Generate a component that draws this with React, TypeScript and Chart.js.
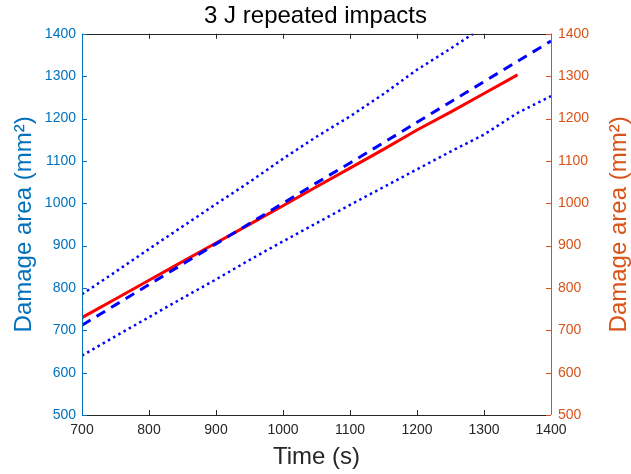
import React, { useEffect, useRef } from "react";
import { Chart, registerables } from "chart.js";

Chart.register(...registerables);

const times = [700, 750, 800, 850, 900, 950, 1000, 1050, 1100, 1150, 1200, 1250, 1300, 1350, 1400];
const upperBound = [785, 838, 892, 945, 998, 1050, 1105, 1157, 1205, 1258, 1315, 1365, 1417];
const lowerBound = [640, 686, 731, 776, 820, 866, 910, 953, 996, 1038, 1080, 1122, 1162, 1213, 1253];
const meanFit = [712, 760, 808, 856, 904, 952, 1000, 1048, 1095, 1143, 1191, 1239, 1287, 1335, 1383];
const measured = [730, 774, 818, 862, 906, 950, 994, 1039, 1083, 1127, 1173, 1215, 1259, 1303];

const xTicks = [700, 800, 900, 1000, 1100, 1200, 1300, 1400];
const yTicks = [500, 600, 700, 800, 900, 1000, 1100, 1200, 1300, 1400];

const titleText = "3 J repeated impacts";
const xTitle = "Time (s)";
const yTitle = "Damage area (mm\u00B2)";

const FONT = "'Liberation Sans', Arial, sans-serif";
const LEFT_COLOR = "#0072BD";
const RIGHT_COLOR = "#D95319";
const AXIS_COLOR = "#262626";
const TITLE_SIZE = 24;

const pts = (ys: number[]) => ys.map((y, i) => ({ x: times[i], y }));
const plain = (v: any) => String(v);

const framePlugin = {
  id: "frame",
  afterDatasetsDraw(chart: any) {
    const { ctx, chartArea: a, scales } = chart;
    const tl = 5;
    ctx.save();
    ctx.lineWidth = 1;
    ctx.strokeStyle = AXIS_COLOR;
    ctx.beginPath();
    ctx.moveTo(a.left, Math.round(a.bottom) + 0.5);
    ctx.lineTo(a.right, Math.round(a.bottom) + 0.5);
    ctx.moveTo(a.left, Math.round(a.top) + 0.5);
    ctx.lineTo(a.right, Math.round(a.top) + 0.5);
    xTicks.forEach((t) => {
      const x = Math.round(scales.x.getPixelForValue(t)) + 0.5;
      ctx.moveTo(x, a.bottom);
      ctx.lineTo(x, a.bottom - tl);
      ctx.moveTo(x, a.top);
      ctx.lineTo(x, a.top + tl);
    });
    ctx.stroke();
    ctx.strokeStyle = LEFT_COLOR;
    ctx.beginPath();
    const lx = Math.round(a.left) + 0.5;
    ctx.moveTo(lx, a.top);
    ctx.lineTo(lx, a.bottom);
    yTicks.forEach((t) => {
      const y = Math.round(scales.y.getPixelForValue(t)) + 0.5;
      ctx.moveTo(a.left, y);
      ctx.lineTo(a.left + tl, y);
    });
    ctx.stroke();
    ctx.strokeStyle = RIGHT_COLOR;
    ctx.beginPath();
    const rx = Math.round(a.right) + 0.5;
    ctx.moveTo(rx, a.top);
    ctx.lineTo(rx, a.bottom);
    yTicks.forEach((t) => {
      const y = Math.round(scales.y2.getPixelForValue(t)) + 0.5;
      ctx.moveTo(a.right, y);
      ctx.lineTo(a.right - tl, y);
    });
    ctx.stroke();
    ctx.restore();
  },
  afterDraw(chart: any) {
    const { ctx, chartArea: a } = chart;
    ctx.save();
    ctx.font = `${TITLE_SIZE}px ${FONT}`;
    ctx.fillStyle = RIGHT_COLOR;
    ctx.textAlign = "center";
    ctx.textBaseline = "middle";
    ctx.translate(619, (a.top + a.bottom) / 2);
    ctx.rotate(-Math.PI / 2);
    ctx.fillText(yTitle, 0, 0);
    ctx.restore();
  },
};

export default function App() {
  const ref = useRef<HTMLCanvasElement | null>(null);
  useEffect(() => {
    if (!ref.current) return;
    const chart = new Chart(ref.current, {
      type: "line",
      data: {
        datasets: [
          {
            label: "upper",
            data: pts(upperBound),
            borderColor: "#0000FF",
            borderWidth: 2.5,
            borderDash: [2.5, 3.5],
            pointRadius: 0,
            fill: false,
            tension: 0,
          },
          {
            label: "lower",
            data: pts(lowerBound),
            borderColor: "#0000FF",
            borderWidth: 2.5,
            borderDash: [2.5, 3.5],
            pointRadius: 0,
            fill: false,
            tension: 0,
          },
          {
            label: "mean",
            data: pts(meanFit),
            borderColor: "#0000FF",
            borderWidth: 3,
            borderDash: [10, 7],
            pointRadius: 0,
            fill: false,
            tension: 0,
          },
          {
            label: "measured",
            data: pts(measured),
            borderColor: "#FF0000",
            borderWidth: 3,
            pointRadius: 0,
            fill: false,
            tension: 0,
          },
        ],
      },
      options: {
        animation: false,
        responsive: true,
        maintainAspectRatio: false,
        layout: { padding: 0 },
        plugins: {
          legend: { display: false },
          tooltip: { enabled: false },
          title: {
            display: true,
            text: titleText,
            color: "#000000",
            font: { family: FONT, size: TITLE_SIZE, weight: "normal" },
            padding: { top: 2, bottom: 3 },
          },
        },
        scales: {
          x: {
            type: "linear",
            min: 700,
            max: 1400,
            afterFit: (s: any) => {
              s.height = 59;
            },
            afterBuildTicks: (s: any) => {
              s.ticks = xTicks.map((v) => ({ value: v }));
            },
            ticks: {
              color: AXIS_COLOR,
              font: { family: FONT, size: 14 },
              padding: 7,
              maxRotation: 0,
              autoSkip: false,
              callback: plain,
            },
            grid: { display: true, drawOnChartArea: false, drawTicks: false, color: "rgba(0,0,0,0)" },
            border: { display: false },
            title: {
              display: true,
              text: xTitle,
              color: AXIS_COLOR,
              font: { family: FONT, size: TITLE_SIZE },
              padding: { top: 0, bottom: 2 },
            },
          },
          y: {
            type: "linear",
            position: "left",
            min: 500,
            max: 1400,
            afterFit: (s: any) => {
              s.width = 82;
            },
            afterBuildTicks: (s: any) => {
              s.ticks = yTicks.map((v) => ({ value: v }));
            },
            ticks: {
              color: LEFT_COLOR,
              font: { family: FONT, size: 14 },
              padding: 6,
              autoSkip: false,
              callback: plain,
            },
            grid: { display: true, drawOnChartArea: false, drawTicks: false, color: "rgba(0,0,0,0)" },
            border: { display: false },
            title: {
              display: true,
              text: yTitle,
              color: LEFT_COLOR,
              font: { family: FONT, size: TITLE_SIZE },
              padding: { top: 10, bottom: 0 },
            },
          },
          y2: {
            type: "linear",
            position: "right",
            min: 500,
            max: 1400,
            afterFit: (s: any) => {
              s.width = 80;
            },
            afterBuildTicks: (s: any) => {
              s.ticks = yTicks.map((v) => ({ value: v }));
            },
            ticks: {
              color: RIGHT_COLOR,
              font: { family: FONT, size: 14 },
              padding: 7,
              autoSkip: false,
              callback: plain,
            },
            grid: { display: true, drawOnChartArea: false, drawTicks: false, color: "rgba(0,0,0,0)" },
            border: { display: false },
          },
        },
      },
      plugins: [framePlugin],
    } as any);
    return () => chart.destroy();
  }, []);

  return (
    <div style={{ position: "fixed", left: 0, top: 0, width: 631, height: 474, background: "#ffffff" }}>
      <canvas ref={ref} />
    </div>
  );
}
